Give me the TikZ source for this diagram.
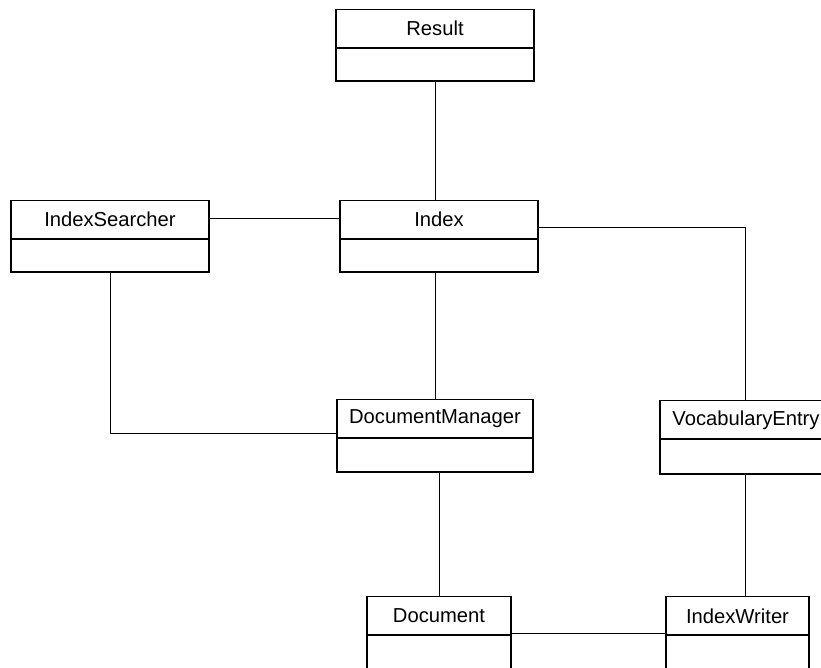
\documentclass[tikz,border=0pt]{standalone}
\usepackage{fontspec}
\setmainfont{Liberation Sans}
\usetikzlibrary{calc}
\begin{document}
\begin{tikzpicture}[x=1pt,y=-1pt,
  head/.style={draw,line width=1.4pt,rectangle,inner sep=0pt,outer sep=0pt,
    minimum height=38.5pt,font=\fontsize{20.2}{24}\selectfont},
  body/.style={draw,line width=1.4pt,rectangle,inner sep=0pt,outer sep=0pt},
  conn/.style={line width=1pt}]
\useasboundingbox (0,0) rectangle (821,667);
\begin{scope}
\clip (0,0) rectangle (821,667);
% Result
\node[head,minimum width=198pt] (result) at (435,28.5) {Result};
\node[body,minimum width=198pt,minimum height=33pt] (result-b) at (435,64.5) {};
% IndexSearcher
\node[head,minimum width=198pt] (is) at (110,219.5) {IndexSearcher};
\node[body,minimum width=198pt,minimum height=33pt] (is-b) at (110,255.5) {};
% Index
\node[head,minimum width=198pt] (index) at (439,219.5) {Index};
\node[body,minimum width=198pt,minimum height=33pt] (index-b) at (439,255.5) {};
% DocumentManager
\node[head,minimum width=196pt] (dm) at (435,419) {DocumentManager};
\node[body,minimum width=196pt,minimum height=34pt] (dm-b) at (435,455) {};
% VocabularyEntry
\node[head,minimum width=172pt] (vocab) at (746,420) {VocabularyEntry};
\node[body,minimum width=172pt,minimum height=35pt] (vocab-b) at (746,456.5) {};
% Document
\node[head,minimum width=144pt] (doc) at (439,616) {Document};
\node[body,minimum width=144pt,minimum height=36pt] (doc-b) at (439,653) {};
% IndexWriter
\node[head,minimum width=143pt] (iw) at (737.5,616) {IndexWriter};
\node[body,minimum width=143pt,minimum height=36pt] (iw-b) at (737.5,653) {};
% connectors
\draw[conn] (result-b.south) -- (result-b.south |- index.north);
\draw[conn] ($(is.east)+(0,-1.5)$) -- ($(index.west)+(0,-1.5)$);
\draw[conn] (dm.north |- index-b.south) -- (dm.north);
\draw[conn] ($(index.east)+(0,7.5)$) -| ($(vocab.north)+(-0.5,0)$);
\draw[conn] (is-b.south) |- ($(dm.south west)+(0,-5)$);
\draw[conn] (doc.north |- dm-b.south) -- (doc.north);
\draw[conn] ($(vocab-b.south)+(-0.5,0)$) -- ($(vocab-b.south |- iw.north)+(-0.5,0)$);
\draw[conn] ($(doc.south east)+(0,-2)$) -- ($(iw.south west)+(0,-2)$);
\end{scope}
\end{tikzpicture}
\end{document}
